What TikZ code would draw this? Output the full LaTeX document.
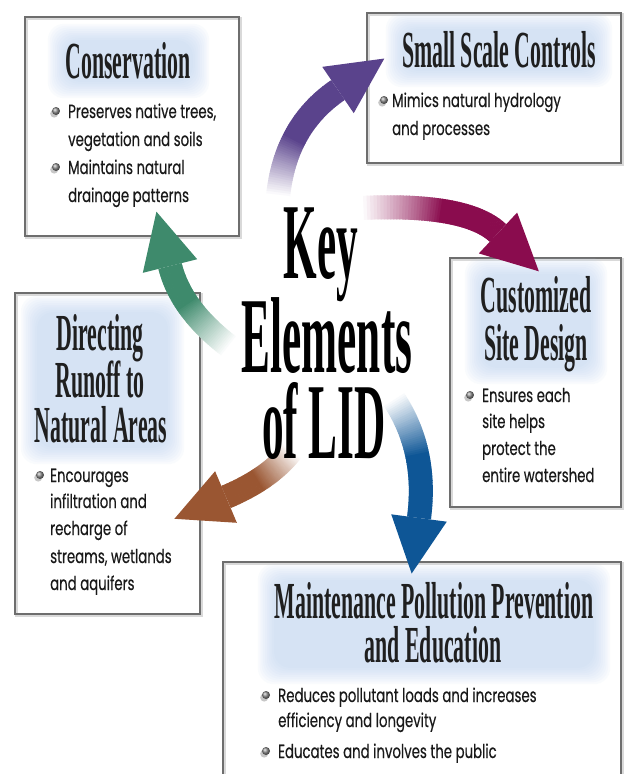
\documentclass[tikz,border=0pt]{standalone}
\usepackage{fontspec}
\newfontfamily\titlefont[FakeStretch=0.42]{Liberation Serif Bold}
\newfontfamily\keyfont[FakeStretch=0.40]{Liberation Serif Bold}
\newfontfamily\bodyfont[FakeStretch=0.70,FakeBold=0.4]{Poppins}
\definecolor{arrpurple}{HTML}{5A438C}
\definecolor{arrmagenta}{HTML}{8A0C4E}
\definecolor{arrblue}{HTML}{0E5696}
\definecolor{arrbrown}{HTML}{9A5632}
\definecolor{arrgreen}{HTML}{3E8A6C}
\definecolor{glowc}{HTML}{B8D0F0}
\definecolor{boxline}{HTML}{6E6E6E}
\pgfdeclarelayer{bg}
\pgfdeclarelayer{glow}
\pgfsetlayers{bg,glow,main}
\tikzset{
  lidbox/.style={draw=boxline, line width=2.8pt},
  boxshadow/.style={draw=black!15, line width=3pt},
  ttl/.style={anchor=base, inner sep=0pt, text depth=0pt, font=\titlefont\fontsize{52}{52}\selectfont, text=black!88},
  keyttl/.style={anchor=base, inner sep=0pt, text depth=0pt, font=\keyfont\fontsize{108}{108}\selectfont, text=black},
  bodytxt/.style={anchor=base west, inner sep=0pt, font=\bodyfont\fontsize{19}{19}\selectfont, text=black!90},
}
\newcommand\lidglow[4]{%
  \begin{pgfonlayer}{glow}
  \foreach \k in {0,...,9}{%
    \fill[glowc, opacity=0.07, rounded corners=16pt]
      ({#1-\k*1.8+6},{#2-\k*1.8+4}) rectangle ({#3+\k*1.8-6},{#4+\k*1.8-4});
  }%
  \end{pgfonlayer}%
}
\newcommand\lidbul[2]{%
  \fill[black!22] ({#1-1.8},{#2+2.6}) circle (4pt);
  \shade[ball color=black!45] (#1,#2) circle (4pt);
}
\newcommand\lidarrow[9]{%
  \foreach \i in {0,...,59}{%
    \pgfmathsetmacro\ta{\i/60}%
    \pgfmathsetmacro\tb{min(1,(\i+1.4)/60)}%
    \pgfmathsetmacro\xa{(1-\ta)*(1-\ta)*#1+2*\ta*(1-\ta)*#3+\ta*\ta*#5}%
    \pgfmathsetmacro\ya{(1-\ta)*(1-\ta)*#2+2*\ta*(1-\ta)*#4+\ta*\ta*#6}%
    \pgfmathsetmacro\xb{(1-\tb)*(1-\tb)*#1+2*\tb*(1-\tb)*#3+\tb*\tb*#5}%
    \pgfmathsetmacro\yb{(1-\tb)*(1-\tb)*#2+2*\tb*(1-\tb)*#4+\tb*\tb*#6}%
    \pgfmathtruncatemacro\pc{min(100,100*\ta/#8)}%
    \draw[line width=24pt, draw=#7!\pc!white] (\xa,\ya) -- (\xb,\yb);
  }%
  \pgfmathsetmacro\dx{#5-#3}%
  \pgfmathsetmacro\dy{#6-#4}%
  \pgfmathsetmacro\dl{sqrt(\dx*\dx+\dy*\dy)}%
  \pgfmathsetmacro\ux{\dx/\dl}%
  \pgfmathsetmacro\uy{\dy/\dl}%
  \coordinate (#9) at ({#5+56*\ux},{#6+56*\uy});
  \fill[#7] (#9) -- ({#5-28*\uy},{#6+28*\ux}) -- ({#5+28*\uy},{#6-28*\ux}) -- cycle;
}
\begin{document}
\begin{tikzpicture}[x=1pt,y=-1pt]
\useasboundingbox (0,0) rectangle (625,774);
\clip (0,0) rectangle (625,774);

% background and boxes
\begin{pgfonlayer}{bg}
\fill[white] (0,0) rectangle (625,774);
\foreach \a/\b/\c/\d in {25/17/239/236, 367/13/621/163, 450/258/621/507, 15/293/200/614, 223/562/621/800}{
  \draw[boxshadow] ({\a+1.5},{\b+1.5}) rectangle ({\c+1.5},{\d+1.5});
  \draw[lidbox] (\a,\b) rectangle (\c,\d);
}
\end{pgfonlayer}

% arrows
\lidarrow{278}{197}{285}{126}{338}{90}{arrpurple}{0.45}{tipP}
\lidarrow{360}{208}{466}{203}{498}{233}{arrmagenta}{0.45}{tipM}
\lidarrow{393}{398}{428}{450}{419}{518}{arrblue}{0.5}{tipB}
\lidarrow{292}{450}{271}{478}{226}{497}{arrbrown}{0.6}{tipR}
\lidarrow{230}{347}{181}{310}{170}{266}{arrgreen}{0.55}{tipG}

% centre title
\node[keyttl] (key1) at (321,278) {Key};
\node[keyttl] (key2) at (327,372) {Elements};
\node[keyttl] (key3) at (324,458) {of LID};

% Conservation
\lidglow{58}{36}{199}{86}
\node[ttl] (t1) at (128,78) {Conservation};
\lidbul{56}{111}
\node[bodytxt] (c1) at (68,118) {Preserves native trees,};
\node[bodytxt] (c2) at (68,146) {vegetation and soils};
\lidbul{56}{167}
\node[bodytxt] (c3) at (68,174) {Maintains natural};
\node[bodytxt] (c4) at (68,202) {drainage patterns};

% Small Scale Controls
\lidglow{396}{25}{602}{75}
\node[ttl] (t2) at (499,67) {Small Scale Controls};
\lidbul{384}{100}
\node[bodytxt] (s1) at (392,107) {Mimics natural hydrology};
\node[bodytxt] (s2) at (392,135) {and processes};

% Customized Site Design
\lidglow{475}{270}{597}{372}
\node[ttl] (t3a) at (536,312) {Customized};
\node[ttl] (t3b) at (536,360) {Site Design};
\lidbul{470}{395}
\node[bodytxt] (d1) at (482,402) {Ensures each};
\node[bodytxt] (d2) at (482,428) {site helps};
\node[bodytxt] (d3) at (482,455) {protect the};
\node[bodytxt] (d4) at (482,482) {entire watershed};

% Directing Runoff
\lidglow{31}{308}{174}{452}
\node[ttl] (t4a) at (100,350) {Directing};
\node[ttl] (t4b) at (100,397) {Runoff to};
\node[ttl] (t4c) at (101,442) {Natural Areas};
\lidbul{40}{475}
\node[bodytxt] (r1) at (50,482) {Encourages};
\node[bodytxt] (r2) at (50,508) {infiltration and};
\node[bodytxt] (r3) at (50,535) {recharge of};
\node[bodytxt] (r4) at (50,563) {streams, wetlands};
\node[bodytxt] (r5) at (50,590) {and aquifers};

% Maintenance
\lidglow{268}{576}{600}{672}
\node[ttl] (t5a) at (434,618) {Maintenance Pollution Prevention};
\node[ttl] (t5b) at (433,662) {and Education};
\lidbul{266}{695}
\node[bodytxt] (m1) at (278,702) {Reduces pollutant loads and increases};
\node[bodytxt] (m2) at (278,727) {efficiency and longevity};
\lidbul{266}{751}
\node[bodytxt] (m3) at (278,758) {Educates and involves the public};
\end{tikzpicture}
\end{document}
